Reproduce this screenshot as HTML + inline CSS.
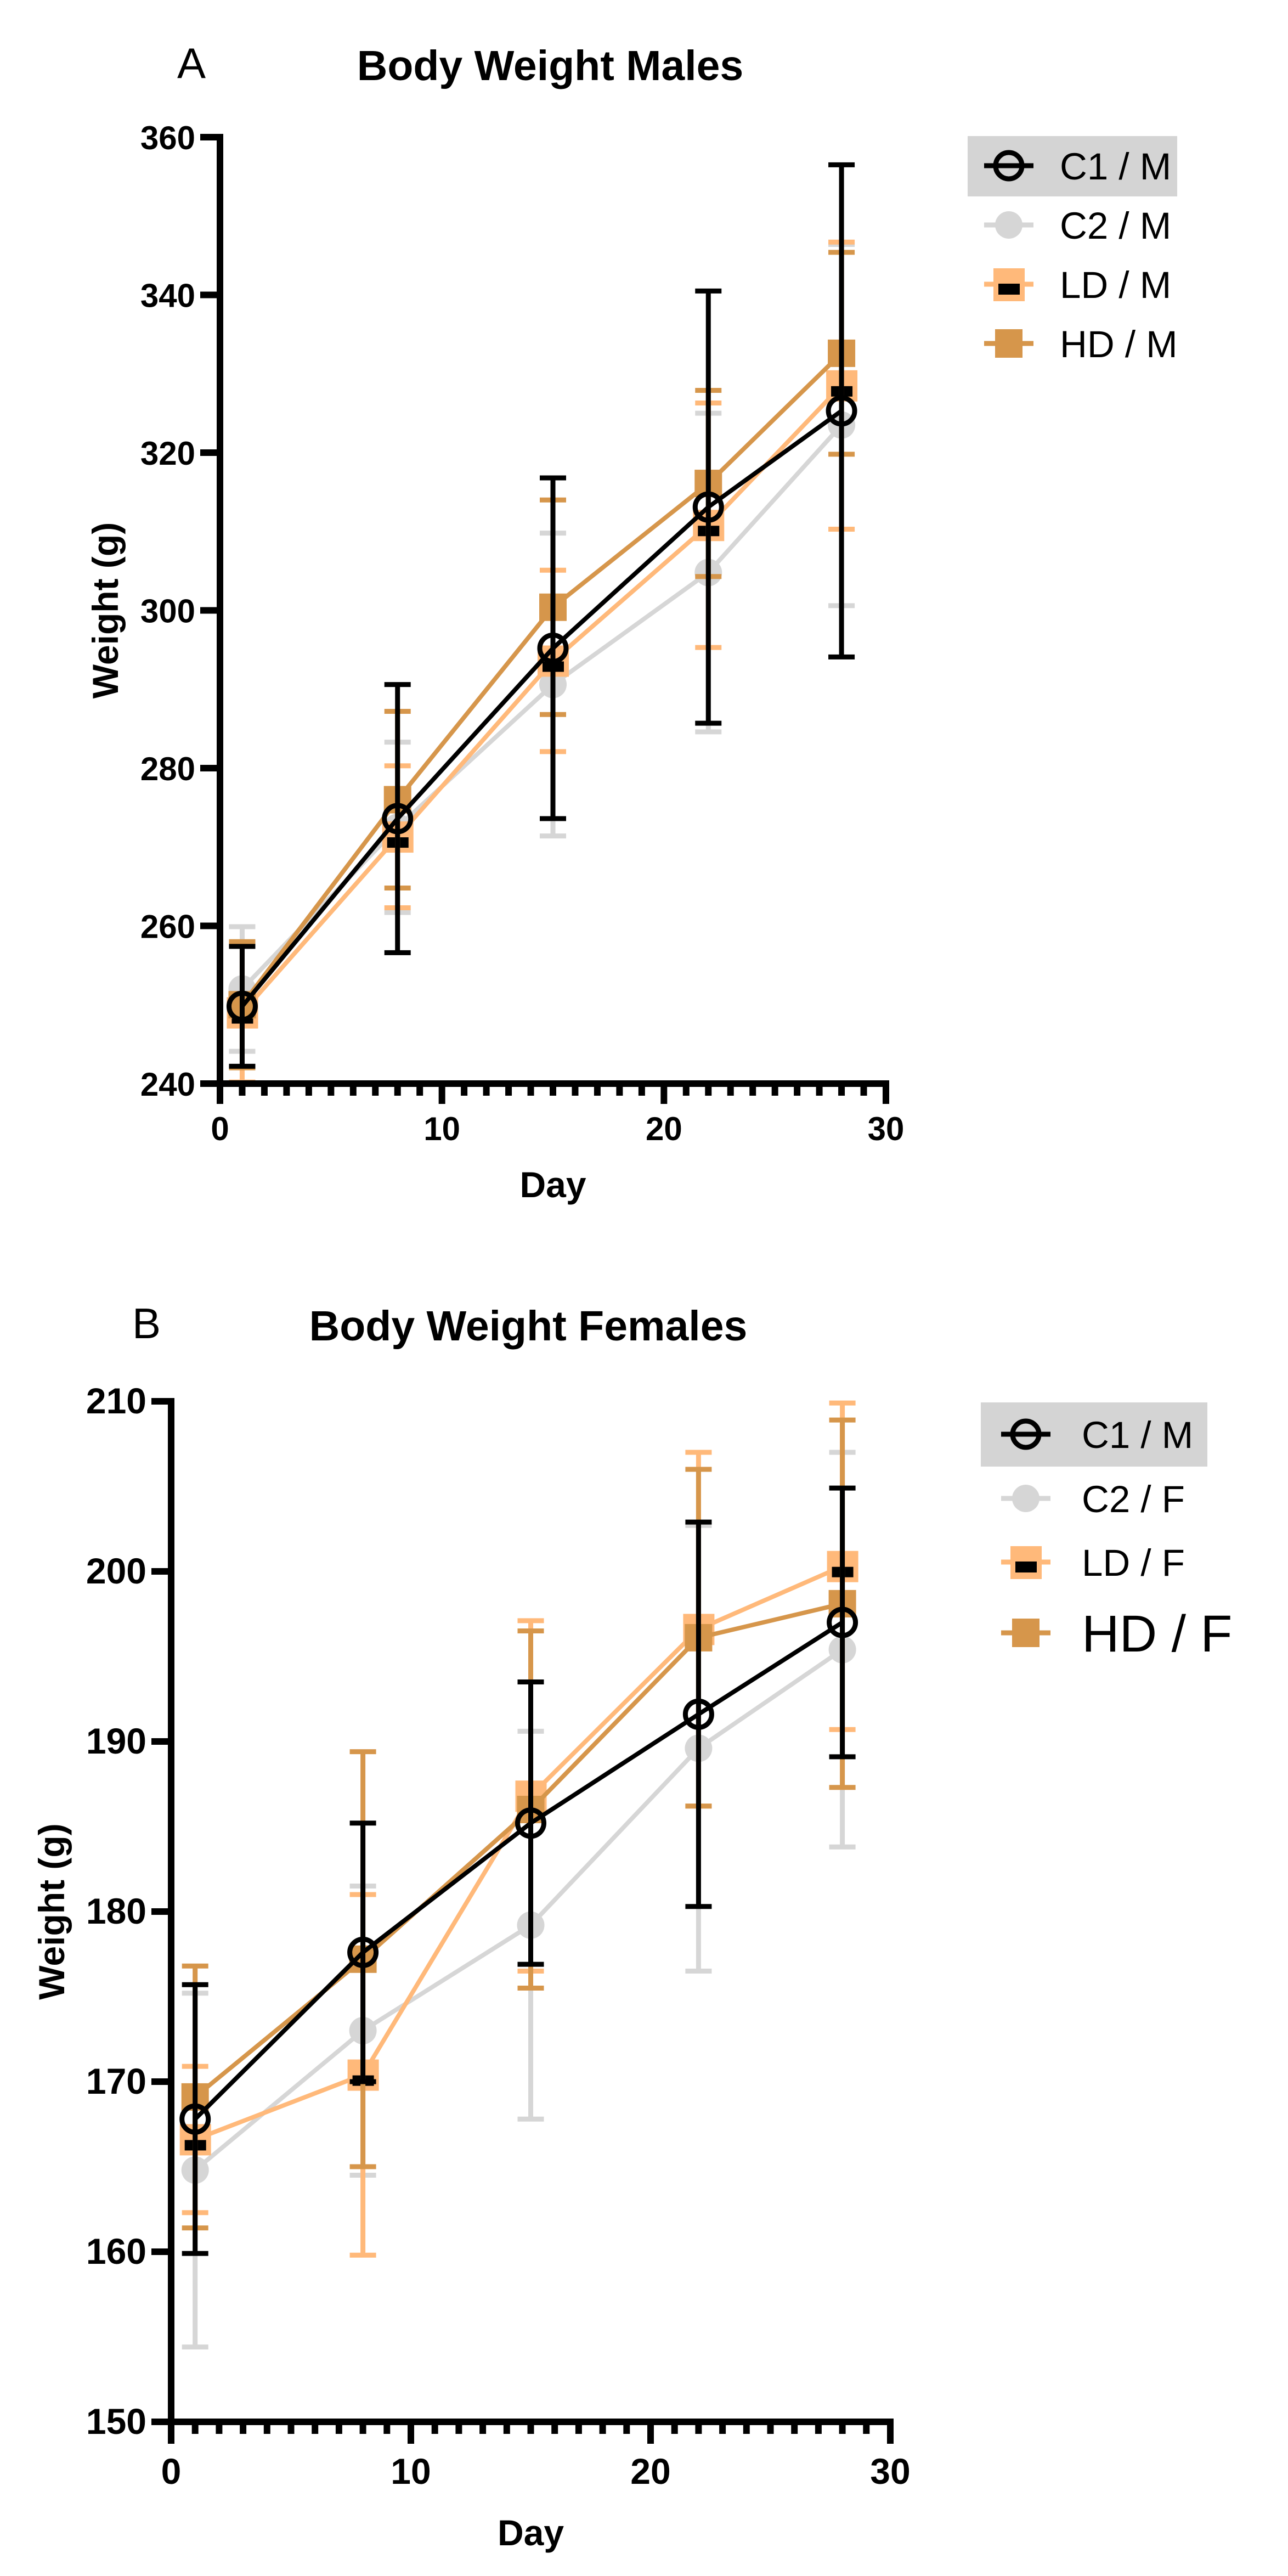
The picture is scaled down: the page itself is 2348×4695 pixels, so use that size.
<!DOCTYPE html>
<html><head><meta charset="utf-8">
<style>
html,body{margin:0;padding:0;background:#fff;}
svg{display:block;font-family:"Liberation Sans",Arial,sans-serif;}
</style></head>
<body>
<svg id="fig" width="2348" height="4695" viewBox="0 0 2348 4695"></svg>
<script>
// ---- Data: Panel A (males) ----
const daysA = [1, 8, 15, 22, 28];
const c1MeanA = [249.8, 273.6, 295.2, 313.1, 325.3];
const c1ErrA  = [7.6, 17.0, 21.6, 27.4, 31.2];
const c2MeanA = [252.0, 272.5, 290.6, 304.8, 323.5];
const c2ErrA  = [7.9, 10.8, 19.2, 20.2, 22.9];
const ldMeanA = [249.0, 271.3, 293.6, 310.8, 328.5];
const ldErrA  = [8.8, 9.0, 11.5, 15.5, 18.2];
const hdMeanA = [250.0, 276.0, 300.4, 316.1, 332.6];
const hdErrA  = [8.0, 11.2, 13.6, 11.8, 12.8];
const yTicksA = [240, 260, 280, 300, 320, 340, 360];
const xTicks = [0, 10, 20, 30];
const legendA = ["C1 / M", "C2 / M", "LD / M", "HD / M"];

// ---- Data: Panel B (females) ----
const daysB = [1, 8, 15, 22, 28];
const c1MeanB = [167.8, 177.6, 185.2, 191.6, 197.0];
const c1ErrB  = [7.9, 7.6, 8.3, 11.3, 7.9];
const c2MeanB = [164.8, 173.0, 179.2, 189.6, 195.4];
const c2ErrB  = [10.4, 8.5, 11.4, 13.1, 11.6];
const ldMeanB = [166.6, 170.4, 186.8, 196.6, 200.3];
const ldErrB  = [4.3, 10.6, 10.3, 10.4, 9.6];
const hdMeanB = [169.1, 177.2, 186.0, 196.1, 198.1];
const hdErrB  = [7.7, 12.2, 10.5, 9.9, 10.8];
const yTicksB = [150, 160, 170, 180, 190, 200, 210];
const legendB = ["C1 / M", "C2 / F", "LD / F", "HD / F"];

const NS = "http://www.w3.org/2000/svg";
const svg = document.getElementById("fig");
function mk(tag, attrs, parent) {
  const e = document.createElementNS(NS, tag);
  for (const k in attrs) e.setAttribute(k, attrs[k]);
  (parent || svg).appendChild(e);
  return e;
}
const COL = {c1: "#000000", c2: "#d6d6d6", ld: "#ffb97a", hd: "#d6964b"};

function drawPanel(p) {
  const g = mk("g", {});
  
  
  const xs = v => p.x0 + (v - 0) / 30 * (p.x1 - p.x0);
  const ys = v => p.yb - (v - p.ymin) / (p.ymax - p.ymin) * (p.yb - p.yt);

  const t = mk("text", {x: p.titleX, y: p.titleY, "font-size": 77, "font-weight": "bold", "text-anchor": "middle"}, g);
  t.textContent = p.title;
  
  
  const L = mk("text", {x: p.letterX, y: p.titleY - 4, "font-size": 78, "text-anchor": "middle"}, g);
  L.textContent = p.letter;
  
  

  const series = [
    {key: "c2", m: p.c2m, e: p.c2e},
    {key: "ld", m: p.ldm, e: p.lde},
    {key: "hd", m: p.hdm, e: p.hde},
    {key: "c1", m: p.c1m, e: p.c1e}
  ];
  series.forEach(s => {
    const sg = mk("g", {}, g);
    
    
    const c = COL[s.key];
    p.days.forEach((d, i) => {
      const x = xs(d), yl = ys(s.m[i] - s.e[i]), yh = ys(s.m[i] + s.e[i]);
      const eb = mk("path", {d: `M${x},${yl}V${yh}M${x-24},${yh}H${x+24}M${x-24},${yl}H${x+24}`, stroke: c, "stroke-width": 9, fill: "none"}, sg);
      
      
    });
    const pts = p.days.map((d, i) => xs(d) + "," + ys(s.m[i])).join(" ");
    const ln = mk("polyline", {points: pts, stroke: c, "stroke-width": 8, fill: "none"}, sg);
    
    
    p.days.forEach((d, i) => {
      const x = xs(d), y = ys(s.m[i]);
      let mkr;
      if (s.key === "c1") mkr = mk("circle", {cx: x, cy: y, r: 24, fill: "none", stroke: c, "stroke-width": 9}, sg);
      else if (s.key === "c2") mkr = mk("circle", {cx: x, cy: y, r: 25, fill: c}, sg);
      else if (s.key === "hd") mkr = mk("rect", {x: x - 25, y: y - 25, width: 50, height: 50, fill: c}, sg);
      else {
        mkr = mk("rect", {x: x - 28, y: y - 28, width: 57, height: 57, fill: c}, sg);
        const b = mk("rect", {x: x - 19, y: y + 1, width: 39, height: 19, fill: "#000"}, sg);
        
        
      }
      
      
    });
  });

  const ax = mk("g", {}, g);
  
  
  const yl = mk("line", {x1: p.x0, y1: p.yt - 6, x2: p.x0, y2: p.yb + 6, stroke: "#000", "stroke-width": 12}, ax);
  
  
  const xl = mk("line", {x1: p.x0 - 6, y1: p.yb, x2: p.x1 + 6, y2: p.yb, stroke: "#000", "stroke-width": 12}, ax);
  
  
  p.yTicks.forEach(v => {
    const y = ys(v);
    const tk = mk("line", {x1: p.x0 - 36, y1: y, x2: p.x0, y2: y, stroke: "#000", "stroke-width": 12}, ax);
    
    
    const tl = mk("text", {x: p.x0 - 45, y: y + 22, "font-size": p.tickFont, "font-weight": "bold", "text-anchor": "end"}, ax);
    tl.textContent = v;
    
    
  });
  for (let d = 1; d < 30; d++) {
    if (d % 10 === 0) continue;
    const x = xs(d);
    const mt = mk("line", {x1: x, y1: p.yb, x2: x, y2: p.yb + 22, stroke: "#000", "stroke-width": 12}, ax);
    
    
  }
  xTicks.forEach(v => {
    const x = xs(v);
    const tk = mk("line", {x1: x, y1: p.yb, x2: x, y2: p.yb + p.majLen, stroke: "#000", "stroke-width": 12}, ax);
    
    
    const tl = mk("text", {x: x, y: p.yb + p.xLabOff, "font-size": p.tickFont, "font-weight": "bold", "text-anchor": "middle"}, ax);
    tl.textContent = v;
    
    
  });
  const xt = mk("text", {x: (p.x0 + p.x1) / 2, y: p.yb + p.dayOff, "font-size": 66, "font-weight": "bold", "text-anchor": "middle"}, ax);
  xt.textContent = "Day";
  
  
  const cy = (p.yt + p.yb) / 2;
  const yt = mk("text", {x: p.ytX, y: cy, "font-size": 66, "font-weight": "bold", "text-anchor": "middle", transform: `rotate(-90 ${p.ytX} ${cy})`}, ax);
  yt.textContent = "Weight (g)";
  
  

  const lg = mk("g", {}, g);
  
  
  const bx = mk("rect", {x: p.lgBox[0], y: p.lgBox[1], width: p.lgBox[2], height: p.lgBox[3], fill: "#d4d4d4"}, lg);
  
  
  const keys = ["c1", "c2", "ld", "hd"];
  keys.forEach((k, i) => {
    const y = p.lgRows[i], x = p.lgSymX, c = COL[k];
    const eg = mk("g", {}, lg);
    
    
    mk("line", {x1: x - 45, y1: y, x2: x + 45, y2: y, stroke: c, "stroke-width": 9}, eg);
    if (k === "c1") mk("circle", {cx: x, cy: y, r: 24, fill: "none", stroke: c, "stroke-width": 9}, eg);
    else if (k === "c2") mk("circle", {cx: x, cy: y, r: 25, fill: c}, eg);
    else if (k === "hd") mk("rect", {x: x - 25, y: y - 26, width: 50, height: 52, fill: c}, eg);
    else { mk("rect", {x: x - 28, y: y - 29, width: 57, height: 60, fill: c}, eg); mk("rect", {x: x - 19, y: y - 1, width: 39, height: 20, fill: "#000"}, eg); }
    const big = (i === 3 && p.bigLast);
    const tx = mk("text", {x: p.lgTextX, y: y + (big ? 34 : 25), "font-size": big ? 95 : 69}, eg);
    tx.textContent = p.legend[i];
    
    
  });
}

drawPanel({name: "chart-males", title: "Body Weight Males", letter: "A", titleX: 1003, titleY: 146, letterX: 349,
  x0: 401, x1: 1615, yt: 250, yb: 1975, ymin: 240, ymax: 360, yTicks: yTicksA, ytX: 215,
  tickFont: 60, xLabOff: 103, dayOff: 207, majLen: 37,
  days: daysA, c1m: c1MeanA, c1e: c1ErrA, c2m: c2MeanA, c2e: c2ErrA, ldm: ldMeanA, lde: ldErrA, hdm: hdMeanA, hde: hdErrA,
  legend: legendA, lgBox: [1764, 248, 382, 110], lgRows: [302, 410, 518, 626], lgSymX: 1839, lgTextX: 1932, bigLast: false});

drawPanel({name: "chart-females", title: "Body Weight Females", letter: "B", titleX: 963, titleY: 2443, letterX: 267,
  x0: 312, x1: 1623, yt: 2554, yb: 4414, ymin: 150, ymax: 210, yTicks: yTicksB, ytX: 117,
  tickFont: 66, xLabOff: 113, dayOff: 225, majLen: 40,
  days: daysB, c1m: c1MeanB, c1e: c1ErrB, c2m: c2MeanB, c2e: c2ErrB, ldm: ldMeanB, lde: ldErrB, hdm: hdMeanB, hde: hdErrB,
  legend: legendB, lgBox: [1788, 2556, 413, 117], lgRows: [2614, 2731, 2847, 2976], lgSymX: 1870, lgTextX: 1972, bigLast: true});
</script>
</body></html>
